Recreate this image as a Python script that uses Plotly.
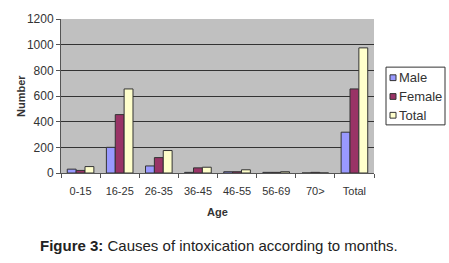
import plotly.graph_objects as go

categories = ["0-15", "16-25", "26-35", "36-45", "46-55", "56-69", "70>", "Total"]
male = [30, 200, 55, 5, 10, 5, 0, 318]
female = [20, 455, 120, 40, 10, 5, 5, 655]
total = [50, 655, 175, 45, 25, 10, 0, 975]
y_ticks = [0, 200, 400, 600, 800, 1000, 1200]
series_names = ["Male", "Female", "Total"]
series_colors = ["#9999ff", "#993366", "#ffffcc"]

fig = go.Figure()
for name, vals, col in zip(series_names, [male, female, total], series_colors):
    fig.add_bar(name=name, x=categories, y=vals,
                marker=dict(color=col, line=dict(color="#333333", width=1)))

font = "Liberation Sans, Arial, sans-serif"
fig.update_layout(
    width=449, height=263,
    margin=dict(l=61, r=75, t=13, b=90),
    paper_bgcolor="white", plot_bgcolor="#c0c0c0",
    barmode="group", bargap=0.32, bargroupgap=0,
    font=dict(family=font, size=11, color="#333333"),
    showlegend=False,
)
fig.update_xaxes(showline=True, linecolor="#555555", ticks="outside", tickson="boundaries",
                 ticklen=4, tickcolor="#555555", tickfont=dict(size=11, color="#333333"),
                 tickangle=0, showgrid=False, ticklabelstandoff=8)
fig.update_yaxes(range=[0, 1200], tickvals=y_ticks, showline=True, linecolor="#555555",
                 ticks="outside", ticklen=4, tickcolor="#555555",
                 gridcolor="#333333", gridwidth=1, tickfont=dict(size=12, color="#333333"),
                 zeroline=False)

# custom compact legend (box at right of plot)
lx0, lx1 = 386, 445
ly0, ly1 = 63, 123
pl, pr, pt, pb = 61, 374, 13, 173
def px_to_paper_x(px):
    return (px - pl) / (pr - pl)
def px_to_paper_y(py):
    return (pb - py) / (pb - pt)
fig.add_shape(type="rect", xref="paper", yref="paper",
              x0=px_to_paper_x(lx0), x1=px_to_paper_x(lx1),
              y0=px_to_paper_y(ly1), y1=px_to_paper_y(ly0),
              line=dict(color="#333333", width=1), fillcolor="white", layer="above")
for i, (name, col) in enumerate(zip(series_names, series_colors)):
    cy = 74 + i * 19.5
    fig.add_shape(type="rect", xref="paper", yref="paper",
                  x0=px_to_paper_x(390), x1=px_to_paper_x(396),
                  y0=px_to_paper_y(cy + 3), y1=px_to_paper_y(cy - 3),
                  line=dict(color="#333333", width=1), fillcolor=col, layer="above")
    fig.add_annotation(text=name, xref="paper", yref="paper",
                       x=px_to_paper_x(397), y=px_to_paper_y(cy), xanchor="left",
                       yanchor="middle", showarrow=False,
                       font=dict(size=13, color="#333333"))

fig.add_annotation(text="<b>Number</b>", xref="paper", yref="paper", x=px_to_paper_x(13), y=0.5,
                   textangle=-90, showarrow=False, font=dict(size=11, color="#333333"))
fig.add_annotation(text="<b>Age</b>", xref="paper", yref="paper", x=0.5, y=px_to_paper_y(213),
                   yanchor="middle", showarrow=False, font=dict(size=11, color="#333333"))
fig.add_annotation(text="<b>Figure 3:</b> Causes of intoxication according to months.",
                   xref="paper", yref="paper", x=px_to_paper_x(219), y=px_to_paper_y(248),
                   xanchor="center", yanchor="middle",
                   showarrow=False, font=dict(size=15, color="#222222"))
fig.write_html("out.html", post_script="document.body.style.margin='0';",
               config={"displayModeBar": False})
